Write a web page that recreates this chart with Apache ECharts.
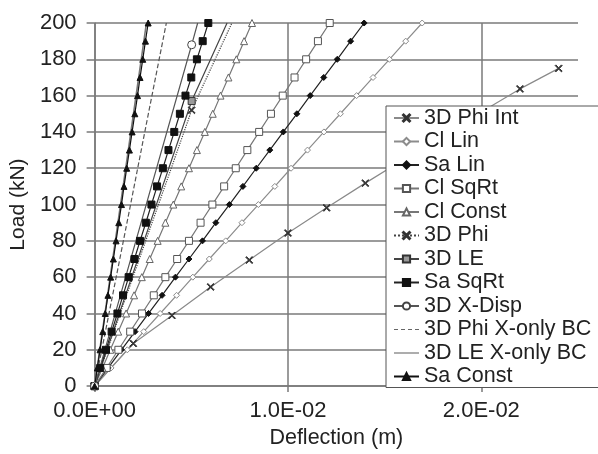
<!DOCTYPE html>
<html><head><meta charset="utf-8">
<script src="https://cdn.jsdelivr.net/npm/echarts@6/dist/echarts.min.js"></script>
<style>html,body{margin:0;padding:0;background:#fff}#c{width:598px;height:454px}</style>
</head><body><div id="c"></div>
<script>
// Loads (kN) for the series with a marker every 10 kN
const loads10 = [0,10,20,30,40,50,60,70,80,90,100,110,120,130,140,150,160,170,180,190,200];
// Deflections (m)
const clLin   = [0,0.00085,0.00169,0.00254,0.00339,0.00424,0.00508,0.00593,0.00678,0.00762,0.00847,0.00932,0.01016,0.01101,0.01186,0.01271,0.01355,0.0144,0.01525,0.01609,0.01694];
const saLin   = [0,0.0007,0.00139,0.00209,0.00279,0.00349,0.00418,0.00488,0.00558,0.00627,0.00697,0.00767,0.00836,0.00906,0.00976,0.01046,0.01115,0.01185,0.01255,0.01324,0.01394];
const clSqRt  = [0,0.00062,0.00123,0.00184,0.00245,0.00306,0.00366,0.00427,0.00488,0.00548,0.00609,0.0067,0.0073,0.0079,0.00851,0.00912,0.00973,0.01034,0.01094,0.01155,0.01216];
const clConst = [0,0.00041,0.00081,0.00122,0.00163,0.00204,0.00244,0.00285,0.00326,0.00366,0.00407,0.00448,0.00488,0.00529,0.0057,0.00611,0.00651,0.00692,0.00733,0.00773,0.00814];
const saSqRt  = [0,0.00029,0.00059,0.00088,0.00118,0.00147,0.00176,0.00206,0.00235,0.00265,0.00294,0.00323,0.00353,0.00382,0.00412,0.00441,0.0047,0.005,0.00529,0.00559,0.00588];
const saConst = [0,0.00014,0.00028,0.00042,0.00055,0.00069,0.00083,0.00097,0.00111,0.00125,0.00139,0.00152,0.00166,0.0018,0.00194,0.00208,0.00222,0.00235,0.00249,0.00263,0.00277];

// 3D Phi Int (displacement steps)
const phiIntDefl = [0,0.002,0.004,0.006,0.008,0.010,0.012,0.014,0.016,0.018,0.020,0.022,0.024];
const phiIntLoad = [0,23.5,38.9,54.6,69.4,84.3,98.2,111.8,125,138,151,163.7,175];
// 3D Phi
const phiDefl = [0,0.00502,0.0071];
const phiLoad = [0,152,200];
// 3D LE
const leDefl = [0,0.00502,0.00685];
const leLoad = [0,157,200];
// 3D X-Disp
const xdDefl = [0,0.00502,0.00533];
const xdLoad = [0,188,200];
// 3D Phi X-only BC
const phiXDefl = [0,0.00093,0.00186,0.00278,0.00371];
const phiXLoad = [0,50,100,150,200];
// 3D LE X-only BC
const leXDefl = [0,0.00067,0.00134,0.00201,0.00268];
const leXLoad = [0,50,100,150,200];

const xTicks = {min:0, max:0.025, interval:0.01};
const xTickValues = [0, 0.01, 0.02];
const yTicks = {min:0, max:200, interval:20};

function pairs(d, l, hideLast){
  return d.map((v,i)=> (hideLast && i===d.length-1) ? {value:[v,l[i]], symbol:'none'} : [v,l[i]]);
}
const X = 'path://M1,0L5,4L9,0L10,1L6,5L10,9L9,10L5,6L1,10L0,9L4,5L0,1Z';
const ICON_SOLID = 'path://M0,4.4H25V5.6H0Z';
const ICON_DASH = 'path://M0,4.4H4V5.6H0Z M7,4.4H11V5.6H7Z M14,4.4H18V5.6H14Z M21,4.4H25V5.6H21Z';

function s(name, data, line, lt, sym, size, fill, border){
  return {
    name, type:'line', data, showSymbol: sym!=='none', symbol: sym, symbolSize: size,
    lineStyle:{color:line, width:1.2, type:lt},
    itemStyle:{color:fill, borderColor:border, borderWidth:1},
    emphasis:{disabled:true}
  };
}

const series = [
  s('3D Phi Int', pairs(phiIntDefl, phiIntLoad), '#8a8a8a','solid', X, 7, '#333','#333'),
  s('Cl Lin', pairs(clLin, loads10), '#8c8c8c','solid','diamond', 6, '#fff','#8c8c8c'),
  s('Sa Lin', pairs(saLin, loads10), '#222','solid','diamond', 6, '#111','#111'),
  s('Cl SqRt', pairs(clSqRt, loads10), '#777','solid','rect', 7, '#fff','#555'),
  s('Cl Const', pairs(clConst, loads10), '#777','solid','triangle', 7, '#fff','#666'),
  s('3D Phi', pairs(phiDefl, phiLoad, true), '#444','dotted', X, 7, '#333','#333'),
  s('3D LE', pairs(leDefl, leLoad, true), '#444','solid','rect', 7, '#999','#333'),
  s('Sa SqRt', pairs(saSqRt, loads10), '#222','solid','rect', 7, '#111','#111'),
  s('3D X-Disp', pairs(xdDefl, xdLoad, true), '#555','solid','circle', 8, '#fff','#444'),
  s('3D Phi X-only BC', pairs(phiXDefl, phiXLoad), '#555','dashed','none', 0, '#555','#555'),
  s('3D LE X-only BC', pairs(leXDefl, leXLoad), '#777','solid','none', 0, '#777','#777'),
  s('Sa Const', pairs(saConst, loads10), '#111','solid','triangle', 6, '#111','#111')
];
series[10].lineStyle.width = 1.6;

function fmtE(v){
  if (v > 0.0241) return '';
  const p = v.toExponential(1).split('e');
  const e = parseInt(p[1],10);
  const a = Math.abs(e);
  return p[0] + 'E' + (e<0?'-':'+') + (a<10?'0'+a:a);
}

const legendData = series.map(x=>{
  if (x.name === '3D Phi X-only BC') return {name:x.name, icon:ICON_DASH, itemStyle:{color:'#666', borderWidth:0}};
  if (x.name === '3D LE X-only BC') return {name:x.name, icon:ICON_SOLID, itemStyle:{color:'#777', borderWidth:0}};
  return {name:x.name};
});

const FONT = '"Liberation Sans", Arial, sans-serif';
const chart = echarts.init(document.getElementById('c'), null, {renderer:'canvas'});
chart.setOption({
  animation:false,
  backgroundColor:'#fff',
  grid:{left:89, right:20, top:23, bottom:61, containLabel:false},
  xAxis:{
    type:'value', min:xTicks.min, max:xTicks.max, interval:xTicks.interval,
    name:'Deflection (m)', nameLocation:'middle', nameGap:38,
    nameTextStyle:{fontSize:21.5, color:'#222', fontFamily:FONT},
    axisLine:{show:true, lineStyle:{color:'#7a7a7a', width:1.5}},
    axisTick:{show:true, length:6, customValues:xTickValues, lineStyle:{color:'#7a7a7a', width:1.5}},
    splitLine:{show:true, lineStyle:{color:'#7a7a7a', width:1.5}},
    axisLabel:{formatter:fmtE, fontSize:22, color:'#222', fontFamily:FONT, margin:14, showMaxLabel:true}
  },
  yAxis:{
    type:'value', min:yTicks.min, max:yTicks.max, interval:yTicks.interval,
    name:'Load (kN)', nameLocation:'middle', nameRotate:90, nameGap:58,
    nameTextStyle:{fontSize:21, color:'#222', fontFamily:FONT},
    axisLine:{show:true, lineStyle:{color:'#7a7a7a', width:1.5}},
    axisTick:{show:true, length:8, lineStyle:{color:'#7a7a7a', width:1.5}},
    splitLine:{show:true, lineStyle:{color:'#7a7a7a', width:1.5}},
    axisLabel:{fontSize:22, color:'#222', fontFamily:FONT, margin:18}
  },
  legend:{
    orient:'vertical', left:386, top:106,
    backgroundColor:'#fff', borderColor:'#555', borderWidth:1,
    padding:[1,30,0,7],
    itemWidth:25, itemHeight:9, itemGap:1.5,
    textStyle:{fontSize:21.5, color:'#222', fontFamily:FONT, lineHeight:21},
    data: legendData
  },
  series
});
</script></body></html>
